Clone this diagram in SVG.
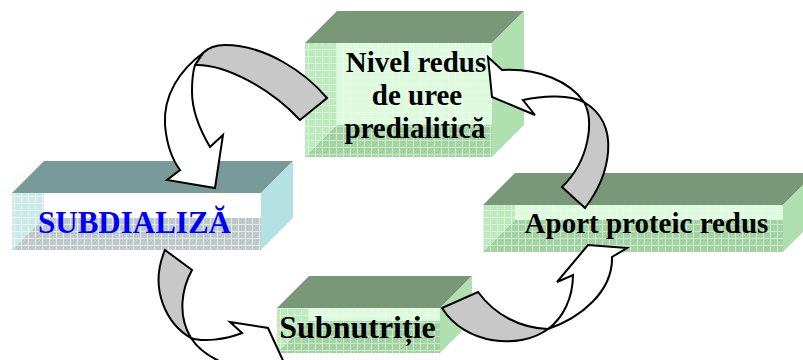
<svg xmlns="http://www.w3.org/2000/svg" width="803" height="360" viewBox="0 0 803 360">
<defs>
<pattern id="gWall" width="7" height="7" patternUnits="userSpaceOnUse"><rect width="7" height="7" fill="#bde9bd"/><path d="M0 0.5H7M0.5 0V7" stroke="#d9f5d9" stroke-width="1"/></pattern>
<pattern id="gBack" width="7" height="7" patternUnits="userSpaceOnUse"><rect width="7" height="7" fill="#dcfadc"/><path d="M0 0.5H7M0.5 0V7" stroke="#ebffeb" stroke-width="1"/></pattern>
<pattern id="gFloor" width="7" height="7" patternUnits="userSpaceOnUse"><rect width="7" height="7" fill="#a7d4a7"/><path d="M2 2h1v1h-1zM4 4h1v1h-1zM2 5h1v1h-1zM5 2h1v1h-1z" fill="#97c497"/><path d="M0 0.5H7M0.5 0V7" stroke="#c6eac6" stroke-width="1"/></pattern>
<pattern id="cWall" width="7" height="7" patternUnits="userSpaceOnUse"><rect width="7" height="7" fill="#cbe9e9"/><path d="M0 0.5H7M0.5 0V7" stroke="#e8f6f6" stroke-width="1"/></pattern>
<pattern id="cFloor" width="7" height="7" patternUnits="userSpaceOnUse"><rect width="7" height="7" fill="#c2cbcb"/><path d="M2 2h1v1h-1zM4 4h1v1h-1zM2 5h1v1h-1zM5 2h1v1h-1z" fill="#b2bcbc"/><path d="M0 0.5H7M0.5 0V7" stroke="#e2e8e8" stroke-width="1"/></pattern>
</defs>
<style>
.topG{fill:#789878}
.sideG{fill:#b0e0b0}
.topC{fill:#789a98}
.sideC{fill:#b4e2e2}
.lbl{font-family:"Liberation Serif","Times New Roman",serif;font-weight:bold;fill:#000;text-anchor:middle}
.arrW{fill:#ffffff;stroke:#000;stroke-width:2;stroke-linejoin:miter}
.arrG{fill:#c8c8c8;stroke:#000;stroke-width:2;stroke-linejoin:miter}
</style>
<rect width="803" height="360" fill="#ffffff"/>

<g id="node-nivel">
<polygon class="topG" points="305,43 337,11 524,11 492,43"/>
<polygon class="sideG" points="492,43 524,11 524,125 492,157"/>
<rect x="337" y="43" width="155" height="82" fill="url(#gBack)"/>
<polygon points="305,43 337,43 337,125 305,157" fill="url(#gWall)"/>
<polygon points="305,157 337,125 492,125 492,157" fill="url(#gFloor)"/>
<text class="lbl" x="416" y="72" font-size="29">Nivel redus</text>
<text class="lbl" x="417" y="105" font-size="29">de uree</text>
<text class="lbl" x="415" y="138" font-size="29">predialitică</text>
</g>

<g id="node-subdializa">
<polygon class="topC" points="12,193 44,161 293,161 261,193"/>
<polygon class="sideC" points="261,193 293,161 293,218 261,250"/>
<rect x="44" y="193" width="217" height="25" fill="#ffffff"/>
<polygon points="12,193 44,193 44,218 12,250" fill="url(#cWall)"/>
<polygon points="12,250 44,218 261,218 261,250" fill="url(#cFloor)"/>
<text class="lbl" x="134.5" y="233" font-size="31" style="fill:#0000ff">SUBDIALIZĂ</text>
</g>

<g id="node-aport">
<polygon class="topG" points="483,205 515,173 815,173 783,205"/>
<polygon class="sideG" points="783,205 815,173 815,220 783,252"/>
<rect x="515" y="205" width="268" height="15" fill="url(#gBack)"/>
<polygon points="483,205 515,205 515,220 483,252" fill="url(#gWall)"/>
<polygon points="483,252 515,220 783,220 783,252" fill="url(#gFloor)"/>
<text class="lbl" x="646.5" y="233" font-size="29">Aport proteic redus</text>
</g>

<g id="node-subnutritie">
<polygon class="topG" points="277,308 309,276 472,276 440,308"/>
<polygon class="sideG" points="440,308 472,276 472,321 440,353"/>
<rect x="309" y="308" width="131" height="13" fill="url(#gBack)"/>
<polygon points="277,308 309,308 309,321 277,353" fill="url(#gWall)"/>
<polygon points="277,353 309,321 440,321 440,353" fill="url(#gFloor)"/>
<text class="lbl" x="357.5" y="338" font-size="32">Subnutriție</text>
</g>

<g id="connectors">
<g id="arrow-nivel-subdializa">
<path class="arrG" d="M327,98 C305,72 265,45 225,45 C215,45 208,48 203,53 L195,65 C225,64 270,88 300,120 Z"/>
<path class="arrW" d="M203,53 C180,70 163,95 165,125 C167,148 174,162 180,170 L167,180 L215,188 L223,135 L210,147 C200,130 192,110 192,92 C192,80 193,71 195,65 Z"/>
</g>
<g id="arrow-subdializa-subnutritie">
<path class="arrG" d="M165,250 L192,270 C182,288 177,315 191,338 C168,325 148,290 165,250 Z"/>
<path class="arrW" d="M191,338 C202,342 225,340 242,333 L230,322 L268,328 L292,380 L268,372 C240,372 205,360 191,338 Z"/>
</g>
<g id="arrow-subnutritie-aport">
<path class="arrG" d="M442,308 L478,292 C495,315 520,328 548,329 C520,350 465,345 442,308 Z"/>
<path class="arrW" d="M548,329 C580,318 613,292 612,257 L627,248 L588,245 L557,282 L573,275 C573,298 563,318 548,329 Z"/>
</g>
<g id="arrow-aport-nivel">
<path class="arrG" d="M562,187 L585,208 C610,175 622,125 584,102 C594,120 590,160 562,187 Z"/>
<path class="arrW" d="M584,102 C570,82 540,68 502,70 L488,57 L492,97 L535,115 L523,100 C545,95 570,95 584,102 Z"/>
</g>
</g>
</svg>
